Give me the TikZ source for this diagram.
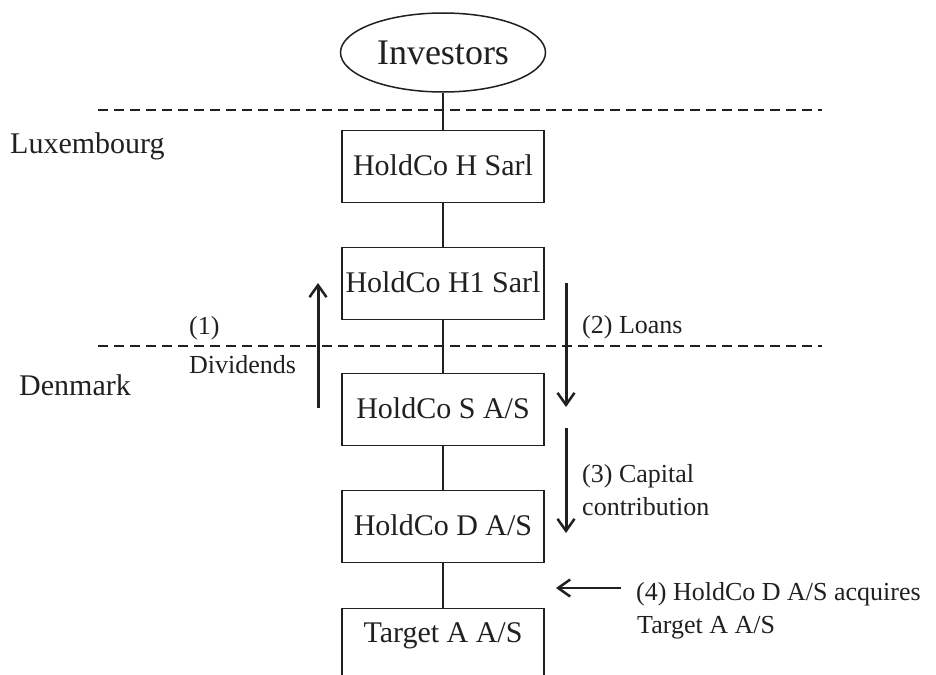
\documentclass[tikz,border=0pt]{standalone}
\usepackage{fontspec}
\setmainfont{Liberation Serif}
\usetikzlibrary{arrows.meta,shapes.geometric}
\definecolor{ink}{RGB}{35,31,32}
\begin{document}
\begin{tikzpicture}[x=1pt,y=-1pt,
  every node/.style={text=ink},
  entity/.style={draw=ink, line width=1.4pt, rectangle, minimum width=202pt,
    inner xsep=0pt, inner ysep=0pt, text height=45pt, text depth=27pt,
    font=\fontsize{30}{36}\selectfont, anchor=north},
  side/.style={font=\fontsize{26}{31}\selectfont, anchor=base west, inner sep=0pt},
  region/.style={font=\fontsize{30}{36}\selectfont, anchor=base west, inner sep=0pt},
  link/.style={draw=ink, line width=1.4pt},
  border/.style={draw=ink, line width=1.6pt, dash pattern=on 10pt off 6pt},
  flow/.style={draw=ink, line width=3pt, -{Straight Barb[length=12pt,width=17pt,line width=2.5pt]}}
]
\useasboundingbox (0,0) rectangle (936,674);
\clip (0,0) rectangle (936,674);

% border lines
\coordinate (b1w) at (98,110);
\coordinate (b1e) at (822,110);
\coordinate (b2w) at (98,346);
\coordinate (b2e) at (822,346);
\draw[border] (b1w) -- (b1e);
\draw[border] (b2w) -- (b2e);

% entities
\node[ellipse, draw=ink, line width=1.5pt, minimum width=205pt, minimum height=79pt,
  inner sep=0pt, font=\fontsize{36}{43}\selectfont] (inv) at (443,52.5) {Investors};
\node[entity] (h) at (443,130) {HoldCo H Sarl};
\node[entity] (h1) at (443,247) {HoldCo H1 Sarl};
\node[entity] (s) at (443,373) {HoldCo S A/S};
\node[entity] (d) at (443,490) {HoldCo D A/S};
\node[entity, text height=34pt, text depth=38pt] (t) at (443,608) {Target A A/S};

\draw[link] (inv.south) -- (h.north);
\draw[link] (h.south) -- (h1.north);
\draw[link] (h1.south) -- (s.north);
\draw[link] (s.south) -- (d.north);
\draw[link] (d.south) -- (t.north);

% flows
\coordinate (dv0) at (318,408);
\coordinate (dv1) at (318,283);
\coordinate (ln0) at (566,283);
\coordinate (ln1) at (566,407);
\coordinate (cc0) at (566,428);
\coordinate (cc1) at (566,533);
\coordinate (aq0) at (621,588);
\coordinate (aq1) at (556,588);
\draw[flow] (dv0) -- (dv1);
\draw[flow] (ln0) -- (ln1);
\draw[flow] (cc0) -- (cc1);
\draw[flow, line width=2.5pt] (aq0) -- (aq1);

% labels
\node[region] (lux) at (10,153) {Luxembourg};
\node[region] (dk) at (19,395) {Denmark};
\node[side] (l1) at (189,334) {(1)};
\node[side] (l1b) at (189,373) {Dividends};
\node[side] (l2) at (582,333) {(2) Loans};
\node[side] (l3) at (582,482) {(3) Capital};
\node[side] (l3b) at (582,515) {contribution};
\node[side] (l4) at (636,600) {(4) HoldCo D A/S acquires};
\node[side] (l4b) at (637,633) {Target A A/S};
\end{tikzpicture}
\end{document}
